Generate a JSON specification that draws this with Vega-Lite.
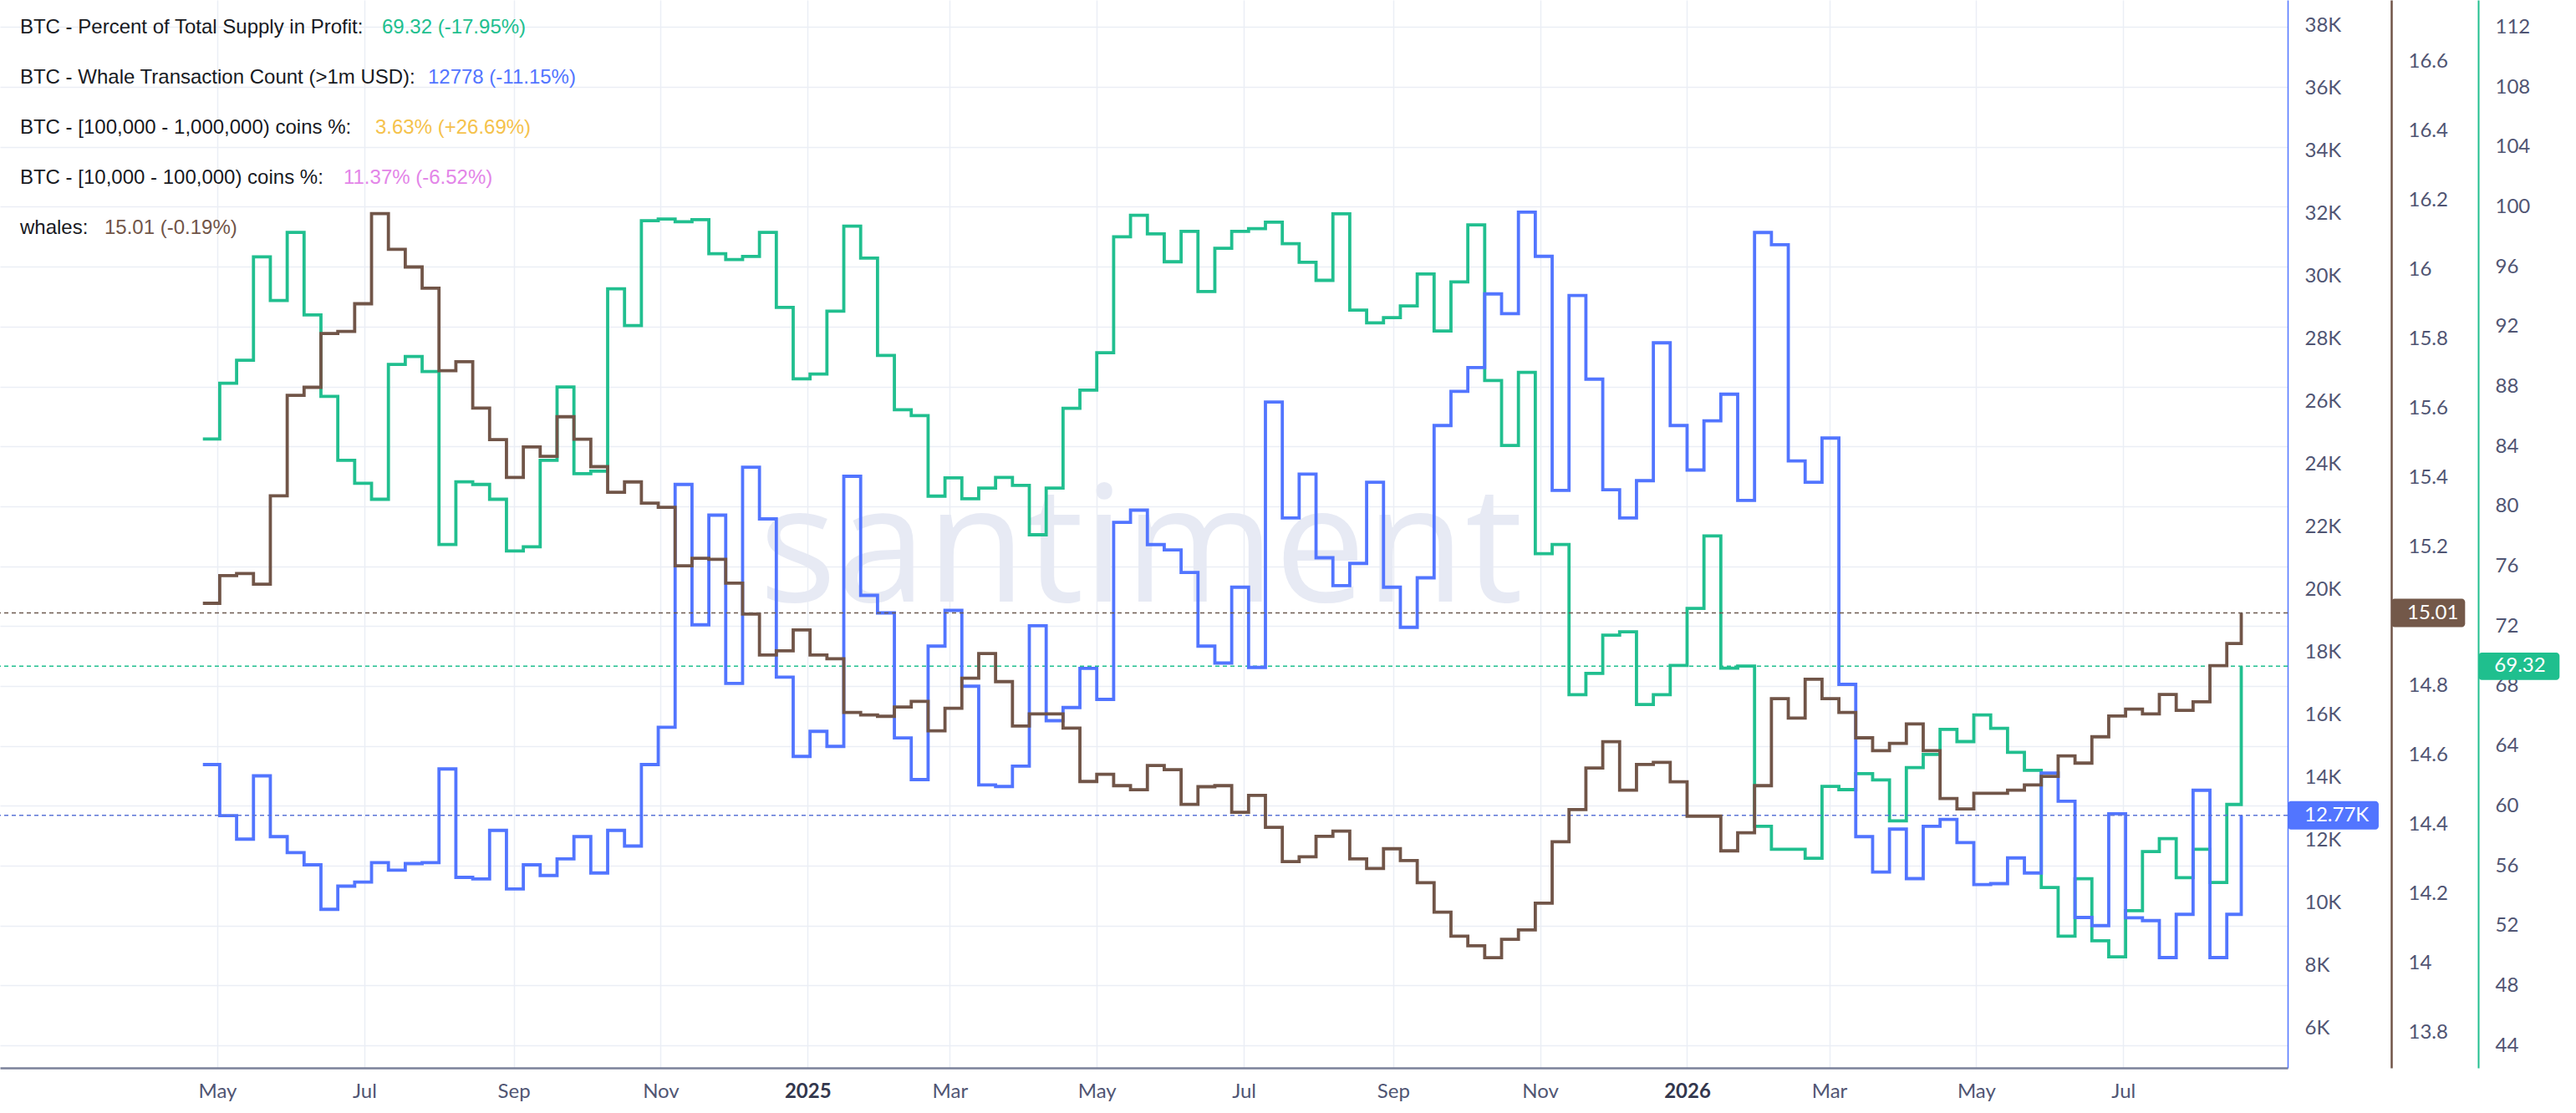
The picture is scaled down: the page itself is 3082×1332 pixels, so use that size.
{
  "$schema": "https://vega.github.io/schema/vega-lite/v6.json",
  "width": 2737,
  "height": 1278,
  "autosize": "none",
  "padding": {"left": 0, "top": 0, "right": 345, "bottom": 54},
  "background": "white",
  "config": {
    "view": {"stroke": null},
    "axis": {
      "title": null,
      "labelFont": "Lato",
      "labelFontSize": 24,
      "labelColor": "#505573",
      "ticks": false,
      "grid": false,
      "labelOverlap": false,
      "labelFlush": false,
      "labelBound": false
    }
  },
  "datasets": {
    "weekly": [
      {"d": "2024-04-25", "profit": 84.49, "txCount": 14400, "whales": 15.038},
      {"d": "2024-05-02", "profit": 88.22, "txCount": 12770, "whales": 15.118},
      {"d": "2024-05-09", "profit": 89.75, "txCount": 12020, "whales": 15.124},
      {"d": "2024-05-16", "profit": 96.66, "txCount": 14040, "whales": 15.093},
      {"d": "2024-05-23", "profit": 93.74, "txCount": 12100, "whales": 15.348},
      {"d": "2024-05-30", "profit": 98.29, "txCount": 11590, "whales": 15.638},
      {"d": "2024-06-06", "profit": 92.78, "txCount": 11200, "whales": 15.661},
      {"d": "2024-06-13", "profit": 87.34, "txCount": 9780, "whales": 15.816},
      {"d": "2024-06-20", "profit": 83.07, "txCount": 10520, "whales": 15.822},
      {"d": "2024-06-27", "profit": 81.54, "txCount": 10650, "whales": 15.902},
      {"d": "2024-07-04", "profit": 80.47, "txCount": 11270, "whales": 16.162},
      {"d": "2024-07-11", "profit": 89.47, "txCount": 11030, "whales": 16.059},
      {"d": "2024-07-18", "profit": 90.0, "txCount": 11240, "whales": 16.008},
      {"d": "2024-07-25", "profit": 89.0, "txCount": 11270, "whales": 15.947},
      {"d": "2024-08-01", "profit": 77.45, "txCount": 14260, "whales": 15.709},
      {"d": "2024-08-08", "profit": 81.64, "txCount": 10800, "whales": 15.735},
      {"d": "2024-08-15", "profit": 81.46, "txCount": 10750, "whales": 15.601},
      {"d": "2024-08-22", "profit": 80.47, "txCount": 12300, "whales": 15.51},
      {"d": "2024-08-29", "profit": 77.02, "txCount": 10430, "whales": 15.401},
      {"d": "2024-09-05", "profit": 77.3, "txCount": 11200, "whales": 15.489},
      {"d": "2024-09-12", "profit": 83.07, "txCount": 10860, "whales": 15.462},
      {"d": "2024-09-19", "profit": 87.97, "txCount": 11390, "whales": 15.576},
      {"d": "2024-09-26", "profit": 82.18, "txCount": 12100, "whales": 15.511},
      {"d": "2024-10-03", "profit": 82.35, "txCount": 10940, "whales": 15.432},
      {"d": "2024-10-10", "profit": 94.52, "txCount": 12300, "whales": 15.358},
      {"d": "2024-10-17", "profit": 92.07, "txCount": 11800, "whales": 15.388},
      {"d": "2024-10-24", "profit": 99.07, "txCount": 14400, "whales": 15.327},
      {"d": "2024-10-31", "profit": 99.18, "txCount": 15590, "whales": 15.315},
      {"d": "2024-11-07", "profit": 99.0, "txCount": 23340, "whales": 15.146},
      {"d": "2024-11-14", "profit": 99.14, "txCount": 18860, "whales": 15.168},
      {"d": "2024-11-21", "profit": 96.87, "txCount": 22360, "whales": 15.165},
      {"d": "2024-11-28", "profit": 96.48, "txCount": 16990, "whales": 15.096},
      {"d": "2024-12-05", "profit": 96.69, "txCount": 23890, "whales": 15.007},
      {"d": "2024-12-12", "profit": 98.29, "txCount": 22240, "whales": 14.889},
      {"d": "2024-12-19", "profit": 93.28, "txCount": 17190, "whales": 14.901},
      {"d": "2024-12-26", "profit": 88.51, "txCount": 14660, "whales": 14.961},
      {"d": "2025-01-02", "profit": 88.83, "txCount": 15460, "whales": 14.889},
      {"d": "2025-01-09", "profit": 93.03, "txCount": 14980, "whales": 14.878},
      {"d": "2025-01-16", "profit": 98.71, "txCount": 23600, "whales": 14.723},
      {"d": "2025-01-23", "profit": 96.58, "txCount": 19800, "whales": 14.716},
      {"d": "2025-01-30", "profit": 90.08, "txCount": 19240, "whales": 14.712},
      {"d": "2025-02-06", "profit": 86.45, "txCount": 15250, "whales": 14.739},
      {"d": "2025-02-13", "profit": 86.06, "txCount": 13920, "whales": 14.755},
      {"d": "2025-02-20", "profit": 80.68, "txCount": 18180, "whales": 14.67},
      {"d": "2025-02-27", "profit": 81.9, "txCount": 19320, "whales": 14.735},
      {"d": "2025-03-06", "profit": 80.5, "txCount": 16900, "whales": 14.822},
      {"d": "2025-03-13", "profit": 81.22, "txCount": 13750, "whales": 14.893},
      {"d": "2025-03-20", "profit": 81.93, "txCount": 13700, "whales": 14.812},
      {"d": "2025-03-27", "profit": 81.4, "txCount": 14350, "whales": 14.684},
      {"d": "2025-04-03", "profit": 78.1, "txCount": 18830, "whales": 14.719},
      {"d": "2025-04-10", "profit": 81.22, "txCount": 15800, "whales": 14.719},
      {"d": "2025-04-17", "profit": 86.55, "txCount": 16220, "whales": 14.678},
      {"d": "2025-04-24", "profit": 87.76, "txCount": 17470, "whales": 14.524},
      {"d": "2025-05-01", "profit": 90.26, "txCount": 16480, "whales": 14.545},
      {"d": "2025-05-08", "profit": 98.0, "txCount": 22130, "whales": 14.512},
      {"d": "2025-05-15", "profit": 99.43, "txCount": 22520, "whales": 14.5},
      {"d": "2025-05-22", "profit": 98.19, "txCount": 21420, "whales": 14.57},
      {"d": "2025-05-29", "profit": 96.33, "txCount": 21250, "whales": 14.558},
      {"d": "2025-06-05", "profit": 98.36, "txCount": 20530, "whales": 14.458},
      {"d": "2025-06-12", "profit": 94.34, "txCount": 18180, "whales": 14.509},
      {"d": "2025-06-19", "profit": 97.23, "txCount": 17640, "whales": 14.512},
      {"d": "2025-06-26", "profit": 98.36, "txCount": 20060, "whales": 14.435},
      {"d": "2025-07-03", "profit": 98.54, "txCount": 17500, "whales": 14.484},
      {"d": "2025-07-10", "profit": 98.97, "txCount": 25970, "whales": 14.392},
      {"d": "2025-07-17", "profit": 97.54, "txCount": 22270, "whales": 14.293},
      {"d": "2025-07-24", "profit": 96.3, "txCount": 23670, "whales": 14.307},
      {"d": "2025-07-31", "profit": 95.09, "txCount": 21000, "whales": 14.366},
      {"d": "2025-08-07", "profit": 99.53, "txCount": 20110, "whales": 14.381},
      {"d": "2025-08-14", "profit": 93.1, "txCount": 20820, "whales": 14.301},
      {"d": "2025-08-21", "profit": 92.25, "txCount": 23410, "whales": 14.273},
      {"d": "2025-08-28", "profit": 92.6, "txCount": 20060, "whales": 14.33},
      {"d": "2025-09-04", "profit": 93.38, "txCount": 18780, "whales": 14.296},
      {"d": "2025-09-11", "profit": 95.51, "txCount": 20360, "whales": 14.232},
      {"d": "2025-09-18", "profit": 91.71, "txCount": 25220, "whales": 14.147},
      {"d": "2025-09-25", "profit": 94.98, "txCount": 26310, "whales": 14.078},
      {"d": "2025-10-02", "profit": 98.79, "txCount": 27070, "whales": 14.05},
      {"d": "2025-10-09", "profit": 88.4, "txCount": 29420, "whales": 14.016},
      {"d": "2025-10-16", "profit": 84.06, "txCount": 28790, "whales": 14.069},
      {"d": "2025-10-23", "profit": 88.94, "txCount": 32030, "whales": 14.096},
      {"d": "2025-10-30", "profit": 76.84, "txCount": 30620, "whales": 14.173},
      {"d": "2025-11-06", "profit": 77.45, "txCount": 23150, "whales": 14.35},
      {"d": "2025-11-13", "profit": 67.42, "txCount": 29370, "whales": 14.443},
      {"d": "2025-11-20", "profit": 68.84, "txCount": 26700, "whales": 14.563},
      {"d": "2025-11-27", "profit": 71.4, "txCount": 23170, "whales": 14.639},
      {"d": "2025-12-04", "profit": 71.62, "txCount": 22270, "whales": 14.499},
      {"d": "2025-12-11", "profit": 66.77, "txCount": 23460, "whales": 14.573},
      {"d": "2025-12-18", "profit": 67.42, "txCount": 27860, "whales": 14.579},
      {"d": "2025-12-25", "profit": 69.37, "txCount": 25220, "whales": 14.523},
      {"d": "2026-01-01", "profit": 73.18, "txCount": 23800, "whales": 14.424},
      {"d": "2026-01-08", "profit": 78.02, "txCount": 25370, "whales": 14.424},
      {"d": "2026-01-15", "profit": 69.19, "txCount": 26220, "whales": 14.324},
      {"d": "2026-01-22", "profit": 69.33, "txCount": 22830, "whales": 14.376},
      {"d": "2026-01-29", "profit": 58.63, "txCount": 31380, "whales": 14.512},
      {"d": "2026-02-05", "profit": 57.1, "txCount": 30990, "whales": 14.763},
      {"d": "2026-02-12", "profit": 57.1, "txCount": 24090, "whales": 14.707},
      {"d": "2026-02-19", "profit": 56.5, "txCount": 23410, "whales": 14.819},
      {"d": "2026-02-26", "profit": 61.3, "txCount": 24820, "whales": 14.763},
      {"d": "2026-03-05", "profit": 61.08, "txCount": 16960, "whales": 14.723},
      {"d": "2026-03-12", "profit": 62.15, "txCount": 12100, "whales": 14.65},
      {"d": "2026-03-19", "profit": 61.73, "txCount": 10970, "whales": 14.613},
      {"d": "2026-03-26", "profit": 58.99, "txCount": 12340, "whales": 14.634},
      {"d": "2026-04-02", "profit": 62.55, "txCount": 10760, "whales": 14.69},
      {"d": "2026-04-09", "profit": 63.43, "txCount": 12430, "whales": 14.613},
      {"d": "2026-04-16", "profit": 65.11, "txCount": 12650, "whales": 14.475},
      {"d": "2026-04-23", "profit": 64.29, "txCount": 11910, "whales": 14.445},
      {"d": "2026-04-30", "profit": 66.07, "txCount": 10570, "whales": 14.49},
      {"d": "2026-05-07", "profit": 65.17, "txCount": 10600, "whales": 14.49},
      {"d": "2026-05-14", "profit": 63.57, "txCount": 11420, "whales": 14.499},
      {"d": "2026-05-21", "profit": 62.37, "txCount": 10940, "whales": 14.514},
      {"d": "2026-05-28", "profit": 54.54, "txCount": 14130, "whales": 14.539},
      {"d": "2026-06-04", "profit": 51.3, "txCount": 13230, "whales": 14.598},
      {"d": "2026-06-11", "profit": 55.13, "txCount": 9520, "whales": 14.577},
      {"d": "2026-06-18", "profit": 50.99, "txCount": 9260, "whales": 14.653},
      {"d": "2026-06-25", "profit": 49.91, "txCount": 12830, "whales": 14.713},
      {"d": "2026-07-02", "profit": 53.0, "txCount": 9510, "whales": 14.733},
      {"d": "2026-07-09", "profit": 56.95, "txCount": 9420, "whales": 14.719},
      {"d": "2026-07-16", "profit": 57.81, "txCount": 8240, "whales": 14.775},
      {"d": "2026-07-23", "profit": 55.2, "txCount": 9620, "whales": 14.729},
      {"d": "2026-07-30", "profit": 57.1, "txCount": 13580, "whales": 14.754},
      {"d": "2026-08-06", "profit": 54.88, "txCount": 8240, "whales": 14.858},
      {"d": "2026-08-13", "profit": 60.09, "txCount": 9620, "whales": 14.922},
      {"d": "2026-08-19", "profit": 69.32, "txCount": 12778, "whales": 15.01}
    ],
    "legendRows": [
      {"rank": 0, "name": "BTC - Percent of Total Supply in Profit:"},
      {"rank": 1, "name": "BTC - Whale Transaction Count (>1m USD):"},
      {"rank": 2, "name": "BTC - [100,000  - 1,000,000) coins %:"},
      {"rank": 3, "name": "BTC - [10,000 - 100,000) coins %:"},
      {"rank": 4, "name": "whales:"}
    ]
  },
  "layer": [
    {
      "layer": [
        {
          "data": {"values": [{}]},
          "mark": {"type": "text", "align": "center", "baseline": "alphabetic", "font": "Open Sans", "fontWeight": "normal", "fontSize": 194, "color": "#e7eaf4"},
          "encoding": {
            "x": {"datum": {"year": 2025, "month": 5, "date": 19, "hours": 9, "utc": true}, "type": "temporal"},
            "y": {"datum": 73.64, "type": "quantitative"},
            "text": {"value": "santiment"}
          }
        },
        {
          "data": {"name": "weekly"},
          "mark": {"type": "line", "interpolate": "step-after", "color": "#21bf8f", "strokeWidth": 3.8},
          "encoding": {
            "x": {
              "field": "d",
              "type": "temporal",
              "scale": {
                "type": "utc",
                "nice": false,
                "domain": [
                  {"year": 2024, "month": 1, "date": 31, "hours": 19, "minutes": 12, "utc": true},
                  {"year": 2026, "month": 9, "date": 7, "hours": 6, "utc": true}
                ]
              },
              "axis": {
                "orient": "bottom",
                "values": [
                  {"year": 2024, "month": 5, "date": 1, "utc": true},
                  {"year": 2024, "month": 7, "date": 1, "utc": true},
                  {"year": 2024, "month": 9, "date": 1, "utc": true},
                  {"year": 2024, "month": 11, "date": 1, "utc": true},
                  {"year": 2025, "month": 1, "date": 1, "utc": true},
                  {"year": 2025, "month": 3, "date": 1, "utc": true},
                  {"year": 2025, "month": 5, "date": 1, "utc": true},
                  {"year": 2025, "month": 7, "date": 1, "utc": true},
                  {"year": 2025, "month": 9, "date": 1, "utc": true},
                  {"year": 2025, "month": 11, "date": 1, "utc": true},
                  {"year": 2026, "month": 1, "date": 1, "utc": true},
                  {"year": 2026, "month": 3, "date": 1, "utc": true},
                  {"year": 2026, "month": 5, "date": 1, "utc": true},
                  {"year": 2026, "month": 7, "date": 1, "utc": true}
                ],
                "labelExpr": "utcmonth(datum.value) == 0 ? utcFormat(datum.value, '%Y') : utcFormat(datum.value, '%b')",
                "labelFontWeight": {"condition": {"test": "utcmonth(datum.value) == 0", "value": "bold"}, "value": "normal"},
                "labelColor": {"condition": {"test": "utcmonth(datum.value) == 0", "value": "#33374d"}, "value": "#505573"},
                "labelPadding": 16,
                "grid": true,
                "gridColor": "#ebeef5",
                "gridWidth": 1.5,
                "domainColor": "#7a819a",
                "domainWidth": 2.5
              }
            },
            "y": {
              "field": "profit",
              "type": "quantitative",
              "scale": {"domain": [42.5, 113.81], "nice": false, "zero": false},
              "axis": {
                "orient": "right",
                "offset": 228,
                "values": [44, 48, 52, 56, 60, 64, 68, 72, 76, 80, 84, 88, 92, 96, 100, 104, 108, 112],
                "format": "~g",
                "labelPadding": 20,
                "grid": true,
                "gridColor": "#ebeef5",
                "gridWidth": 1.5,
                "domainColor": "#21bf8f",
                "domainWidth": 2
              }
            }
          }
        },
        {
          "data": {"values": [{}]},
          "mark": {"type": "rule", "color": "#21bf8f", "strokeWidth": 1.5, "strokeDash": [5, 4]},
          "encoding": {"y": {"datum": 69.32, "type": "quantitative"}}
        },
        {
          "data": {"values": [{}]},
          "mark": {"type": "rect", "color": "#1fbf8e", "cornerRadius": 4},
          "encoding": {
            "x": {"datum": {"year": 2026, "month": 11, "date": 25, "hours": 10, "minutes": 48, "utc": true}, "type": "temporal"},
            "x2": {"datum": {"year": 2026, "month": 12, "date": 29, "hours": 2, "minutes": 24, "utc": true}},
            "y": {"datum": 70.23, "type": "quantitative"},
            "y2": {"datum": 68.41}
          }
        },
        {
          "data": {"values": [{}]},
          "mark": {"type": "text", "align": "left", "baseline": "middle", "dx": 19, "font": "Lato", "fontSize": 24, "color": "white"},
          "encoding": {
            "x": {"datum": {"year": 2026, "month": 11, "date": 25, "hours": 10, "minutes": 48, "utc": true}, "type": "temporal"},
            "y": {"datum": 69.32, "type": "quantitative"},
            "text": {"value": "69.32"}
          }
        }
      ]
    },
    {
      "layer": [
        {
          "data": {"name": "weekly"},
          "mark": {"type": "line", "interpolate": "step-after", "color": "#5275ff", "strokeWidth": 3.8},
          "encoding": {
            "x": {"field": "d", "type": "temporal"},
            "y": {
              "field": "txCount",
              "type": "quantitative",
              "scale": {"domain": [4720, 38800], "nice": false, "zero": false},
              "axis": {
                "orient": "right",
                "offset": 0,
                "values": [6000, 8000, 10000, 12000, 14000, 16000, 18000, 20000, 22000, 24000, 26000, 28000, 30000, 32000, 34000, 36000, 38000],
                "labelExpr": "(datum.value / 1000) + 'K'",
                "labelPadding": 20,
                "domainColor": "#5275ff",
                "domainWidth": 1.5
              }
            }
          }
        },
        {
          "data": {"values": [{}]},
          "mark": {"type": "rule", "color": "#5b74d6", "strokeWidth": 1.5, "strokeDash": [5, 4]},
          "encoding": {"y": {"datum": 12778, "type": "quantitative"}}
        },
        {
          "data": {"values": [{}]},
          "mark": {"type": "rect", "color": "#5275ff", "cornerRadius": 4},
          "encoding": {
            "x": {"datum": {"year": 2026, "month": 9, "date": 7, "hours": 6, "utc": true}, "type": "temporal"},
            "x2": {"datum": {"year": 2026, "month": 10, "date": 15, "hours": 1, "utc": true}},
            "y": {"datum": 13232, "type": "quantitative"},
            "y2": {"datum": 12324}
          }
        },
        {
          "data": {"values": [{}]},
          "mark": {"type": "text", "align": "left", "baseline": "middle", "dx": 20, "font": "Lato", "fontSize": 24, "color": "white"},
          "encoding": {
            "x": {"datum": {"year": 2026, "month": 9, "date": 7, "hours": 6, "utc": true}, "type": "temporal"},
            "y": {"datum": 12778, "type": "quantitative"},
            "text": {"value": "12.77K"}
          }
        }
      ]
    },
    {
      "layer": [
        {
          "data": {"name": "weekly"},
          "mark": {"type": "line", "interpolate": "step-after", "color": "#715548", "strokeWidth": 3.8},
          "encoding": {
            "x": {"field": "d", "type": "temporal"},
            "y": {
              "field": "whales",
              "type": "quantitative",
              "scale": {"domain": [13.698, 16.778], "nice": false, "zero": false},
              "axis": {
                "orient": "right",
                "offset": 124,
                "values": [13.8, 14, 14.2, 14.4, 14.6, 14.8, 15, 15.2, 15.4, 15.6, 15.8, 16, 16.2, 16.4, 16.6],
                "format": "~g",
                "labelPadding": 20,
                "domainColor": "#715548",
                "domainWidth": 2.5
              }
            }
          }
        },
        {
          "data": {"values": [{}]},
          "mark": {"type": "rule", "color": "#6d5a50", "strokeWidth": 1.5, "strokeDash": [5, 4]},
          "encoding": {"y": {"datum": 15.01, "type": "quantitative"}}
        },
        {
          "data": {"values": [{}]},
          "mark": {"type": "rect", "color": "#735849", "cornerRadius": 4},
          "encoding": {
            "x": {"datum": {"year": 2026, "month": 10, "date": 20, "hours": 6, "minutes": 30, "utc": true}, "type": "temporal"},
            "x2": {"datum": {"year": 2026, "month": 11, "date": 19, "hours": 21, "minutes": 36, "utc": true}},
            "y": {"datum": 15.051, "type": "quantitative"},
            "y2": {"datum": 14.969}
          }
        },
        {
          "data": {"values": [{}]},
          "mark": {"type": "text", "align": "left", "baseline": "middle", "dx": 19, "font": "Lato", "fontSize": 24, "color": "white"},
          "encoding": {
            "x": {"datum": {"year": 2026, "month": 10, "date": 20, "hours": 6, "minutes": 30, "utc": true}, "type": "temporal"},
            "y": {"datum": 15.01, "type": "quantitative"},
            "text": {"value": "15.01"}
          }
        }
      ]
    },
    {
      "encoding": {
        "x": {"datum": {"year": 2024, "month": 2, "date": 9, "hours": 2, "minutes": 38, "utc": true}, "type": "temporal"},
        "y": {"field": "rank", "type": "quantitative", "scale": {"domain": [-0.55, 20.75], "reverse": true, "nice": false, "zero": false}, "axis": null}
      },
      "layer": [
        {
          "data": {"name": "legendRows"},
          "mark": {"type": "text", "align": "left", "baseline": "middle", "font": "Liberation Sans", "fontSize": 24, "color": "#181a1f"},
          "encoding": {"text": {"field": "name"}}
        },
        {
          "data": {"values": [{"rank": 0, "value": "69.32 (-17.95%)"}]},
          "mark": {"type": "text", "align": "left", "baseline": "middle", "dx": 433, "font": "Liberation Sans", "fontSize": 24, "color": "#21bf8f"},
          "encoding": {"text": {"field": "value"}}
        },
        {
          "data": {"values": [{"rank": 1, "value": "12778 (-11.15%)"}]},
          "mark": {"type": "text", "align": "left", "baseline": "middle", "dx": 488, "font": "Liberation Sans", "fontSize": 24, "color": "#5275ff"},
          "encoding": {"text": {"field": "value"}}
        },
        {
          "data": {"values": [{"rank": 2, "value": "3.63% (+26.69%)"}]},
          "mark": {"type": "text", "align": "left", "baseline": "middle", "dx": 425, "font": "Liberation Sans", "fontSize": 24, "color": "#f5c24c"},
          "encoding": {"text": {"field": "value"}}
        },
        {
          "data": {"values": [{"rank": 3, "value": "11.37% (-6.52%)"}]},
          "mark": {"type": "text", "align": "left", "baseline": "middle", "dx": 387, "font": "Liberation Sans", "fontSize": 24, "color": "#e385e8"},
          "encoding": {"text": {"field": "value"}}
        },
        {
          "data": {"values": [{"rank": 4, "value": "15.01 (-0.19%)"}]},
          "mark": {"type": "text", "align": "left", "baseline": "middle", "dx": 101, "font": "Liberation Sans", "fontSize": 24, "color": "#715548"},
          "encoding": {"text": {"field": "value"}}
        }
      ]
    }
  ],
  "resolve": {"scale": {"y": "independent"}}
}
